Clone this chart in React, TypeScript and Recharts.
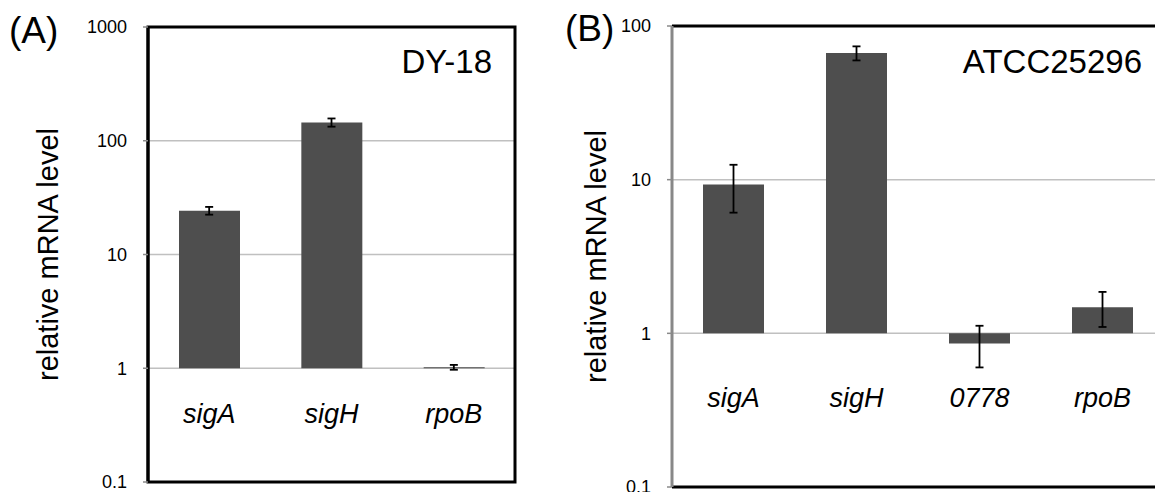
import React from 'react';
import { ComposedChart, Bar, Line, ErrorBar, XAxis, YAxis, CartesianGrid, ReferenceArea, ReferenceLine } from 'recharts';

// (A) DY-18
const genesA = ['sigA', 'sigH', 'rpoB'];
const levelsA = [24.3, 145, 1.02];
const errorsA = [1.9, 12, 0.05];
const ticksA = [0.1, 1, 10, 100, 1000];

// (B) ATCC25296
const genesB = ['sigA', 'sigH', '0778', 'rpoB'];
const levelsB = [9.3, 66.7, 0.86, 1.48];
const errorsB = [3.2, 7, 0.26, 0.38];
const ticksB = [0.1, 1, 10, 100];

const FONT = '"Liberation Sans", Arial, sans-serif';
const BAR = '#4e4e4e';
const GRID = '#c0c0c0';

// bars grow from 1 (the axis crossing), up or down
const toRows = (genes: string[], levels: number[], errors: number[]) =>
  genes.map((gene, i) => ({
    gene,
    level: levels[i],
    range: [Math.min(1, levels[i]), Math.max(1, levels[i])],
    err: errors[i],
  }));

const GeneTick = (props: any) => {
  const { x, y, payload, lift } = props;
  return (
    <text x={x} y={y - lift} textAnchor="middle" fontStyle="italic" fontSize={27} fill="#000" fontFamily={FONT}>
      {payload.value}
    </text>
  );
};

type PanelProps = {
  genes: string[];
  levels: number[];
  errors: number[];
  ticks: number[];
  strain: string;
  width: number;
  margin: { top: number; right: number; bottom: number; left: number };
  axisWidth: number;
  xAxisHeight: number;
  labelOffset: number;
  tickLift: number;
  boxed: boolean;
};

const Panel: React.FC<PanelProps> = ({ genes, levels, errors, ticks, strain, width, margin, axisWidth, xAxisHeight, labelOffset, tickLift, boxed }) => {
  const data = toRows(genes, levels, errors);
  const lo = ticks[0];
  const hi = ticks[ticks.length - 1];
  return (
    <ComposedChart width={width} height={492} data={data} margin={margin}>
      <CartesianGrid vertical={false} stroke={GRID} strokeWidth={1.5} />
      <XAxis dataKey="gene" height={xAxisHeight} axisLine={false} tickLine={false} tickSize={0} tickMargin={0} interval={0} tick={<GeneTick lift={tickLift} />} />
      <YAxis
        scale="log"
        type="number"
        domain={[lo, hi]}
        allowDataOverflow
        ticks={ticks}
        interval={0}
        width={axisWidth}
        tickSize={5}
        tickMargin={16}
        tick={{ fill: '#000', fontSize: 18 }}
        tickLine={{ stroke: '#8a8a8a', strokeWidth: 1.5 }}
        axisLine={{ stroke: boxed ? '#000' : '#888', strokeWidth: 3 }}
        label={{ value: 'relative mRNA level', angle: -90, position: 'insideLeft', offset: labelOffset, fontSize: 29, fill: '#000', style: { textAnchor: 'middle' } }}
      />
      {boxed ? (
        <ReferenceArea y1={lo} y2={hi} fill="none" stroke="#000" strokeWidth={3}
          label={{ value: strain, position: 'insideTopRight', offset: 23, fontSize: 33, fill: '#000' }} />
      ) : (
        <ReferenceArea y1={lo} y2={hi} fill="none" stroke="none"
          label={{ value: strain, position: 'insideTopRight', offset: 22, dy: 2, fontSize: 33, fill: '#000' }} />
      )}
      {!boxed && <ReferenceLine y={hi} stroke="#000" strokeWidth={3} />}
      {!boxed && <ReferenceLine y={lo} stroke="#000" strokeWidth={3} />}
      <Bar dataKey="range" fill={BAR} barSize={61} isAnimationActive={false} />
      <Line dataKey="level" stroke="none" dot={false} activeDot={false} isAnimationActive={false}>
        <ErrorBar dataKey="err" direction="y" width={4} stroke="#000" strokeWidth={1.8} isAnimationActive={false} />
      </Line>
    </ComposedChart>
  );
};

export default function App() {
  return (
    <div style={{ position: 'fixed', left: 0, top: 0, width: 1155, height: 492, overflow: 'hidden', background: '#fff', fontFamily: FONT }}>
      <div style={{ position: 'absolute', left: 9, top: 12, fontSize: 37, lineHeight: '37px' }}>(A)</div>
      <div style={{ position: 'absolute', left: 565, top: 10, fontSize: 37, lineHeight: '37px' }}>(B)</div>
      <div style={{ position: 'absolute', left: 0, top: 0 }}>
        <Panel genes={genesA} levels={levelsA} errors={errorsA} ticks={ticksA} strain="DY-18"
          width={540} margin={{ top: 27, right: 25, bottom: 0, left: 30 }} axisWidth={118} xAxisHeight={10}
          labelOffset={18} tickLift={59} boxed />
      </div>
      <div style={{ position: 'absolute', left: 560, top: 0 }}>
        <Panel genes={genesB} levels={levelsB} errors={errorsB} ticks={ticksB} strain="ATCC25296"
          width={614} margin={{ top: 26, right: 10, bottom: 0, left: 20 }} axisWidth={92} xAxisHeight={5}
          labelOffset={16} tickLift={80} boxed={false} />
      </div>
    </div>
  );
}
